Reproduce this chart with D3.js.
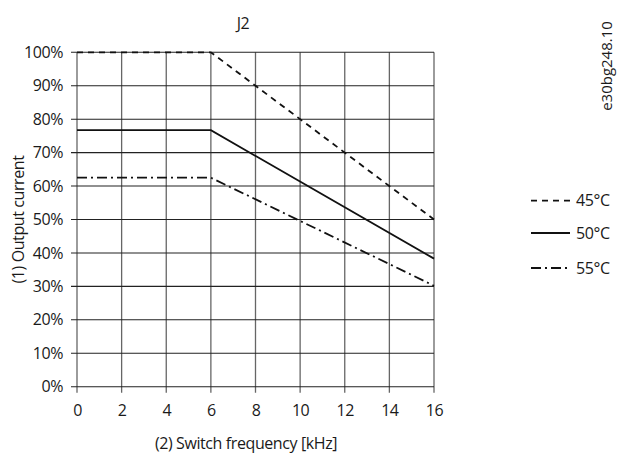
<!DOCTYPE html>
<html><head><meta charset="utf-8">
<script src="https://cdn.jsdelivr.net/npm/d3@7"></script>
<style>body{margin:0;background:#fff}text{font-family:"Open Sans",sans-serif;fill:#1a1a1a;letter-spacing:-0.4px}</style>
</head><body>
<svg id="c" width="619" height="457"></svg>
<script>
const xTicks=[0,2,4,6,8,10,12,14,16];
const yTicks=[0,10,20,30,40,50,60,70,80,90,100];
const seriesNames=["45°C","50°C","55°C"];
const freq=[0,6,16];
const s45=[100,100,50];
const s50=[76.7,76.7,38.3];
const s55=[62.5,62.5,30.2];
const dashes=["6,5",null,"10,4,2,4"];

const svg=d3.select("#c");
const L=77,R=434,T=52.3,B=386.7;
const x=d3.scaleLinear().domain([0,16]).range([L,R]);
const y=d3.scaleLinear().domain([0,100]).range([B,T]);

svg.append("g").selectAll("line").data(xTicks).join("line")
 .attr("x1",d=>x(d)).attr("x2",d=>x(d)).attr("y1",T).attr("y2",B+6)
 .attr("stroke","#666").attr("stroke-width",1.3);
svg.append("g").selectAll("line").data(yTicks).join("line")
 .attr("x1",L-6).attr("x2",R).attr("y1",d=>y(d)).attr("y2",d=>y(d))
 .attr("stroke","#222").attr("stroke-width",1.1);

const xa=svg.append("g").attr("transform",`translate(0,${B})`)
 .call(d3.axisBottom(x).tickValues(xTicks).tickSize(0).tickPadding(18));
xa.select(".domain").remove();
xa.selectAll("text").style("font-size","16px").style("font-family","Open Sans").attr("fill","#1a1a1a");
const ya=svg.append("g").attr("transform",`translate(${L},0)`)
 .call(d3.axisLeft(y).tickValues(yTicks).tickFormat(d=>d+"%").tickSize(0).tickPadding(14));
ya.select(".domain").remove();
ya.selectAll("text").style("font-size","16px").style("font-family","Open Sans").attr("fill","#1a1a1a");

const line=d3.line().x(d=>x(d[0])).y(d=>y(d[1]));
[s45,s50,s55].forEach((s,i)=>{
 svg.append("path").datum(freq.map((f,j)=>[f,s[j]])).attr("d",line)
  .attr("fill","none").attr("stroke","#111").attr("stroke-width",1.8)
  .attr("stroke-dasharray",dashes[i]);
});

const ly=[200.7,233,268];
seriesNames.forEach((n,i)=>{
 svg.append("line").attr("x1",531).attr("x2",570).attr("y1",ly[i]).attr("y2",ly[i])
  .attr("stroke","#111").attr("stroke-width",1.8).attr("stroke-dasharray",dashes[i]);
 svg.append("text").attr("x",576).attr("y",ly[i]).attr("dy","0.35em")
  .style("font-size","16px").text(n);
});

svg.append("text").attr("x",243).attr("y",29).attr("text-anchor","middle").style("font-size","16px").text("J2");
svg.append("text").attr("transform","translate(612,66) rotate(-90)").attr("text-anchor","middle").style("font-size","15px").style("letter-spacing","0px").text("e30bg248.10");
svg.append("text").attr("transform",`translate(24,${(T+B)/2}) rotate(-90)`).attr("text-anchor","middle").style("font-size","16px").text("(1) Output current");
svg.append("text").attr("x",246).attr("y",449).attr("text-anchor","middle").style("font-size","16px").text("(2) Switch frequency [kHz]");
</script>
</body></html>
